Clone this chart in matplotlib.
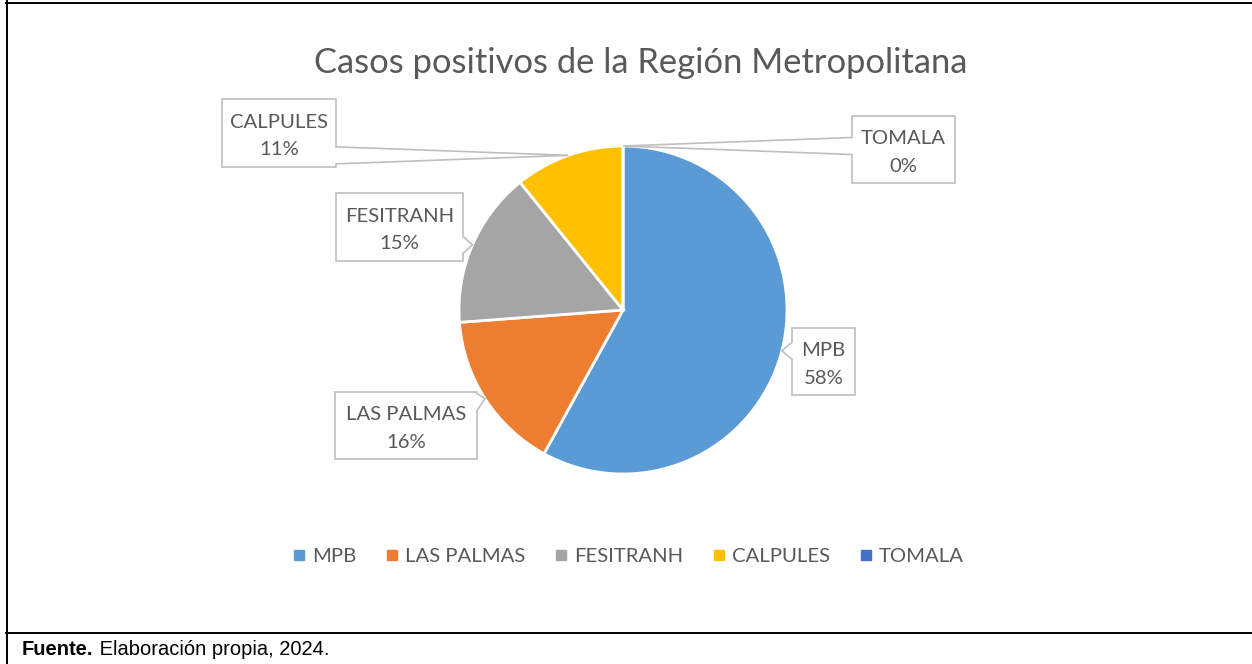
import matplotlib
matplotlib.use("Agg")
import matplotlib.pyplot as plt
from matplotlib.lines import Line2D
from matplotlib.patches import Polygon
import numpy as np

# data
categories = ["MPB", "LAS PALMAS", "FESITRANH", "CALPULES", "TOMALA"]
values = [58.0, 15.8, 15.4, 10.8, 0.0]
pct_labels = ["58%", "16%", "15%", "11%", "0%"]
colors = ["#5B9BD5", "#ED7D31", "#A5A5A5", "#FFC000", "#4472C4"]

title = "Casos positivos de la Región Metropolitana"
source_bold = "Fuente."
source_text = " Elaboración propia, 2024."

W, H = 1252, 664
text_color = "#595959"
box_color = "#BFBFBF"
chart_font = ["Lato", "DejaVu Sans"]

# callout boxes in image pixels (x0, y0, x1, y1), y measured from top
boxes = {
    "MPB": (792, 328, 855, 395),
    "LAS PALMAS": (335, 392, 477, 459),
    "FESITRANH": (336, 193, 463, 261),
    "CALPULES": (222, 99, 336, 167),
    "TOMALA": (852, 116, 955, 183),
}

fig = plt.figure(figsize=(W / 100, H / 100), dpi=100)
ax = fig.add_axes([0, 0, 1, 1])

cx, cy, r = 623, H - 310, 164
wedges, _ = ax.pie(values, colors=colors, startangle=90, counterclock=False,
                   center=(cx, cy), radius=r,
                   wedgeprops=dict(edgecolor="white", linewidth=2))
ax.set_xlim(0, W)
ax.set_ylim(0, H)
ax.set_aspect("auto")
ax.axis("off")


def callout(box, tip):
    x0, y0, x1, y1 = box
    top, bot = H - y0, H - y1
    tx, ty = tip
    yc = min(max(ty, bot + 10), top - 10)
    a, b = yc + 8.5, yc - 8.5
    if tx > x1:
        pts = [(x0, top), (x1, top), (x1, a), (tx, ty), (x1, b), (x1, bot), (x0, bot)]
    else:
        pts = [(x0, top), (x1, top), (x1, bot), (x0, bot), (x0, b), (tx, ty), (x0, a)]
    ax.add_patch(Polygon(pts, closed=True, facecolor="white", edgecolor=box_color,
                         linewidth=1.2, zorder=3))


for w, name, pct in zip(wedges, categories, pct_labels):
    mid = np.deg2rad((w.theta1 + w.theta2) / 2)
    tip = (cx + r * np.cos(mid), cy + r * np.sin(mid))
    box = boxes[name]
    callout(box, tip)
    bx = (box[0] + box[2]) / 2
    by = H - (box[1] + box[3]) / 2 - 3
    ax.text(bx, by, f"{name}\n{pct}", ha="center", va="center", color=text_color,
            fontsize=14.6, family=chart_font, linespacing=1.75, zorder=4)

ax.text((316 + 965) / 2, H - 63, title, ha="center", va="center",
        color=text_color, fontsize=24.8, family=chart_font)

handles = [Line2D([], [], marker="s", linestyle="", color=c, markersize=6.5) for c in colors]
fig.legend(handles, categories, loc="center", bbox_to_anchor=(628.5 / W, 1 - 556 / H),
           ncol=5, frameon=False, prop={"family": chart_font, "size": 14.6},
           labelcolor=text_color, handlelength=0.6, handletextpad=0.35,
           columnspacing=1.45)

# table borders
fig.add_artist(Line2D([6.5 / W, 6.5 / W], [0, 1 - 1 / H], transform=fig.transFigure,
                      color="black", linewidth=1.4))
fig.add_artist(Line2D([6 / W, 1], [1 - 2.5 / H, 1 - 2.5 / H], transform=fig.transFigure,
                      color="black", linewidth=1.4))
fig.add_artist(Line2D([6 / W, 1], [1 - 633 / H, 1 - 633 / H], transform=fig.transFigure,
                      color="black", linewidth=1.4))

t = fig.text(22 / W, 1 - 655 / H, source_bold, fontsize=14.5, fontweight="bold",
             family="Liberation Sans", va="baseline")
fig.canvas.draw()
bb = t.get_window_extent()
fig.text(bb.x1 / W, 1 - 655 / H, source_text, fontsize=14.5,
         family="Liberation Sans", va="baseline")

fig.savefig("out.png", dpi=100)
